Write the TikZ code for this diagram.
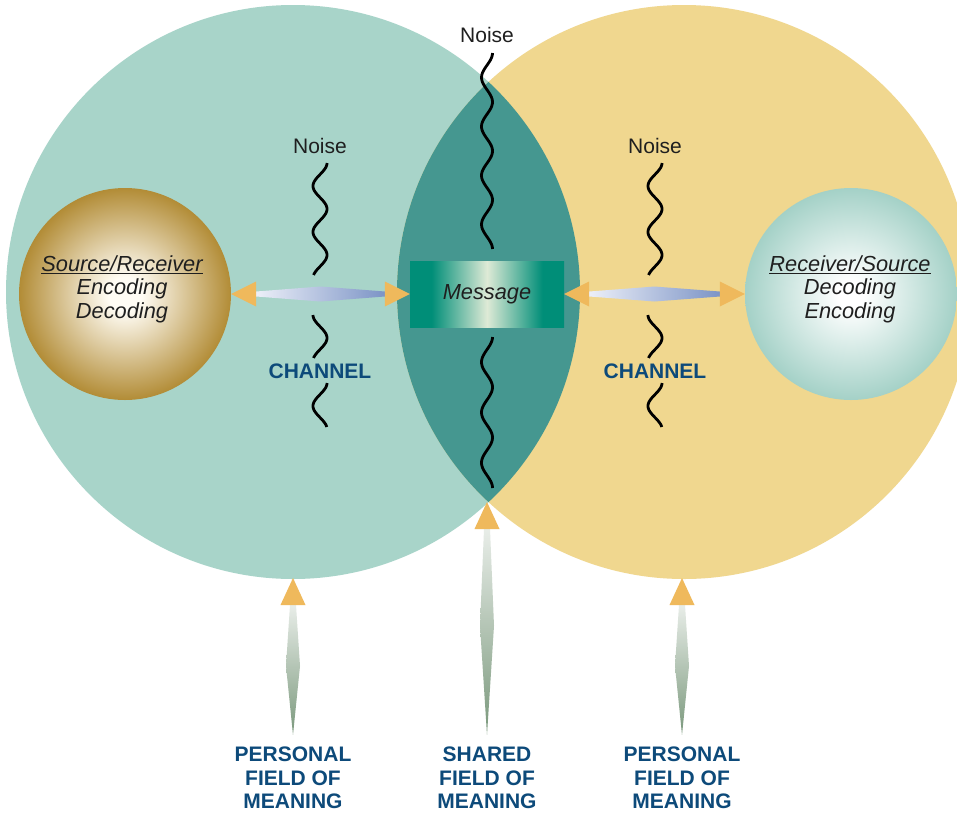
\documentclass[tikz,border=0pt]{standalone}
\usepackage{fontspec}
\setmainfont{Liberation Sans}
\usetikzlibrary{calc}
\definecolor{leftc}{RGB}{168,212,201}
\definecolor{rightc}{RGB}{240,215,143}
\definecolor{lensc}{RGB}{69,151,144}
\definecolor{tipc}{RGB}{239,185,92}
\definecolor{labc}{RGB}{13,74,122}
\definecolor{tealc}{RGB}{0,142,120}
\definecolor{lightc}{RGB}{222,234,214}
\definecolor{goldc}{RGB}{178,140,54}
\definecolor{creamc}{RGB}{255,252,244}
\definecolor{ballc}{RGB}{164,209,199}
\definecolor{hshL}{RGB}{236,239,248}
\definecolor{hshR}{RGB}{124,148,198}
\definecolor{vshT}{RGB}{232,237,232}
\definecolor{vshB}{RGB}{122,152,124}
\pgfdeclarehorizontalshading{msgshade}{100bp}{color(0bp)=(tealc); color(32bp)=(tealc); color(50bp)=(lightc); color(68bp)=(tealc); color(100bp)=(tealc)}
\pgfdeclareradialshading{goldball}{\pgfpoint{0bp}{0bp}}{color(0bp)=(creamc); color(4bp)=(creamc); color(25bp)=(goldc); color(50bp)=(goldc)}
\pgfdeclareradialshading{tealball}{\pgfpoint{0bp}{0bp}}{color(0bp)=(white); color(3bp)=(white); color(25bp)=(ballc); color(50bp)=(ballc)}
\newcommand\wavy[5]{\draw[noiseline] plot[domain=#2:#3, samples=90, smooth, variable=\yy] ({#1+#4*cos((360/#5)*(\yy-#2))}, \yy);}
\newcommand\hArrow[2]{%
  \coordinate (p1) at (#1.east); \coordinate (p2) at (#2.west);
  \coordinate (pm) at ($(p1)!0.5!(p2)$);
  \shade[hshaft] ($(p1)+(25,-2.5)$) -- ($(pm)+(0,-7.5)$) -- ($(p2)+(-25,-2.5)$)
     -- ($(p2)+(-25,2.5)$) -- ($(pm)+(0,7.5)$) -- ($(p1)+(25,2.5)$) -- cycle;
  \fill[tri] (p1) -- ($(p1)+(25,-12.5)$) -- ($(p1)+(25,12.5)$) -- cycle;
  \fill[tri] (p2) -- ($(p2)+(-25,-12.5)$) -- ($(p2)+(-25,12.5)$) -- cycle;}
\newcommand\vArrow[2]{%
  \coordinate (vt) at (#1); \coordinate (vb) at ($(#2.north)+(0,-12)$);
  \coordinate (vbase) at ($(vt)+(0,27)$);
  \coordinate (vm) at ($(vbase)!0.47!(vb)$);
  \shade[vshaft] ($(vbase)+(-3,0)$) -- ($(vm)+(-7,0)$) -- (vb) -- ($(vm)+(7,0)$) -- ($(vbase)+(3,0)$) -- cycle;
  \fill[tri] (vt) -- ($(vt)+(-12.5,27)$) -- ($(vt)+(12.5,27)$) -- cycle;}
\begin{document}
\begin{tikzpicture}[x=1pt,y=-1pt,
  noiseline/.style={line width=2.8pt, black},
  tri/.style={fill=tipc},
  hshaft/.style={left color=hshL, right color=hshR},
  vshaft/.style={top color=vshT, bottom color=vshB},
  noisetxt/.style={font=\fontsize{21}{24}\selectfont, text=black!88, inner sep=0pt, anchor=base},
  chantxt/.style={font=\fontsize{21}{24}\selectfont\bfseries, text=labc, inner sep=0pt, anchor=base},
  fieldtxt/.style={font=\fontsize{21}{23.5}\selectfont\bfseries, text=labc, align=center, inner sep=0pt},
  roletxt/.style={font=\fontsize{21.8}{23.5}\selectfont\itshape, text=black!88, align=center, inner sep=0pt},
  ball/.style={circle, minimum size=212pt, inner sep=0pt}
]
\useasboundingbox (0,0) rectangle (957,814);
\clip (0,0) rectangle (957,814);
\fill[white] (0,0) rectangle (957,814);
% fields
\fill[leftc] (293,292) circle[radius=287pt];
\fill[rightc] (684,292) circle[radius=287pt];
\begin{scope}
  \clip (293,292) circle[radius=287pt];
  \fill[lensc] (684,292) circle[radius=287pt];
\end{scope}
% noise
\wavy{320}{163}{275}{7}{46}
\wavy{320}{315}{358}{-7}{46}
\wavy{320}{383}{427}{7}{46}
\wavy{655}{163}{275}{7}{46}
\wavy{655}{315}{358}{-7}{46}
\wavy{655}{383}{427}{7}{46}
\wavy{487}{53}{249}{5.5}{49}
\wavy{487}{337}{488}{5.5}{50.3}
\node[noisetxt] (n0) at (487,42) {Noise};
\node[noisetxt] (n1) at (320,153) {Noise};
\node[noisetxt] (n2) at (655,153) {Noise};
\node[chantxt] (c1) at (320,378) {CHANNEL};
\node[chantxt] (c2) at (655,378) {CHANNEL};
% participants and message
\node[ball, shading=goldball] (src) at (125,294) {};
\node[ball, shading=tealball] (dst) at (851,294) {};
\node[roletxt] (srct) at (122,289) {\underline{Source/Receiver}\\Encoding\\Decoding};
\node[roletxt] (dstt) at (850,289) {\underline{Receiver/Source}\\Decoding\\Encoding};
\node[rectangle, minimum width=154pt, minimum height=66pt, inner sep=0pt, shading=msgshade,
      font=\fontsize{21.8}{24}\selectfont\itshape, text=black!88] (msg) at (487,294) {Message};
\hArrow{src}{msg}
\hArrow{msg}{dst}
% fields of meaning
\node[fieldtxt] (pfl) at (293,778) {PERSONAL\\FIELD OF\\MEANING};
\node[fieldtxt] (sfm) at (487,778) {SHARED\\FIELD OF\\MEANING};
\node[fieldtxt] (pfr) at (682,778) {PERSONAL\\FIELD OF\\MEANING};
\coordinate (ltip) at (293,578);
\coordinate (ctip) at (487,502);
\coordinate (rtip) at (682,578);
\vArrow{ltip}{pfl}
\vArrow{ctip}{sfm}
\vArrow{rtip}{pfr}
\end{tikzpicture}
\end{document}
